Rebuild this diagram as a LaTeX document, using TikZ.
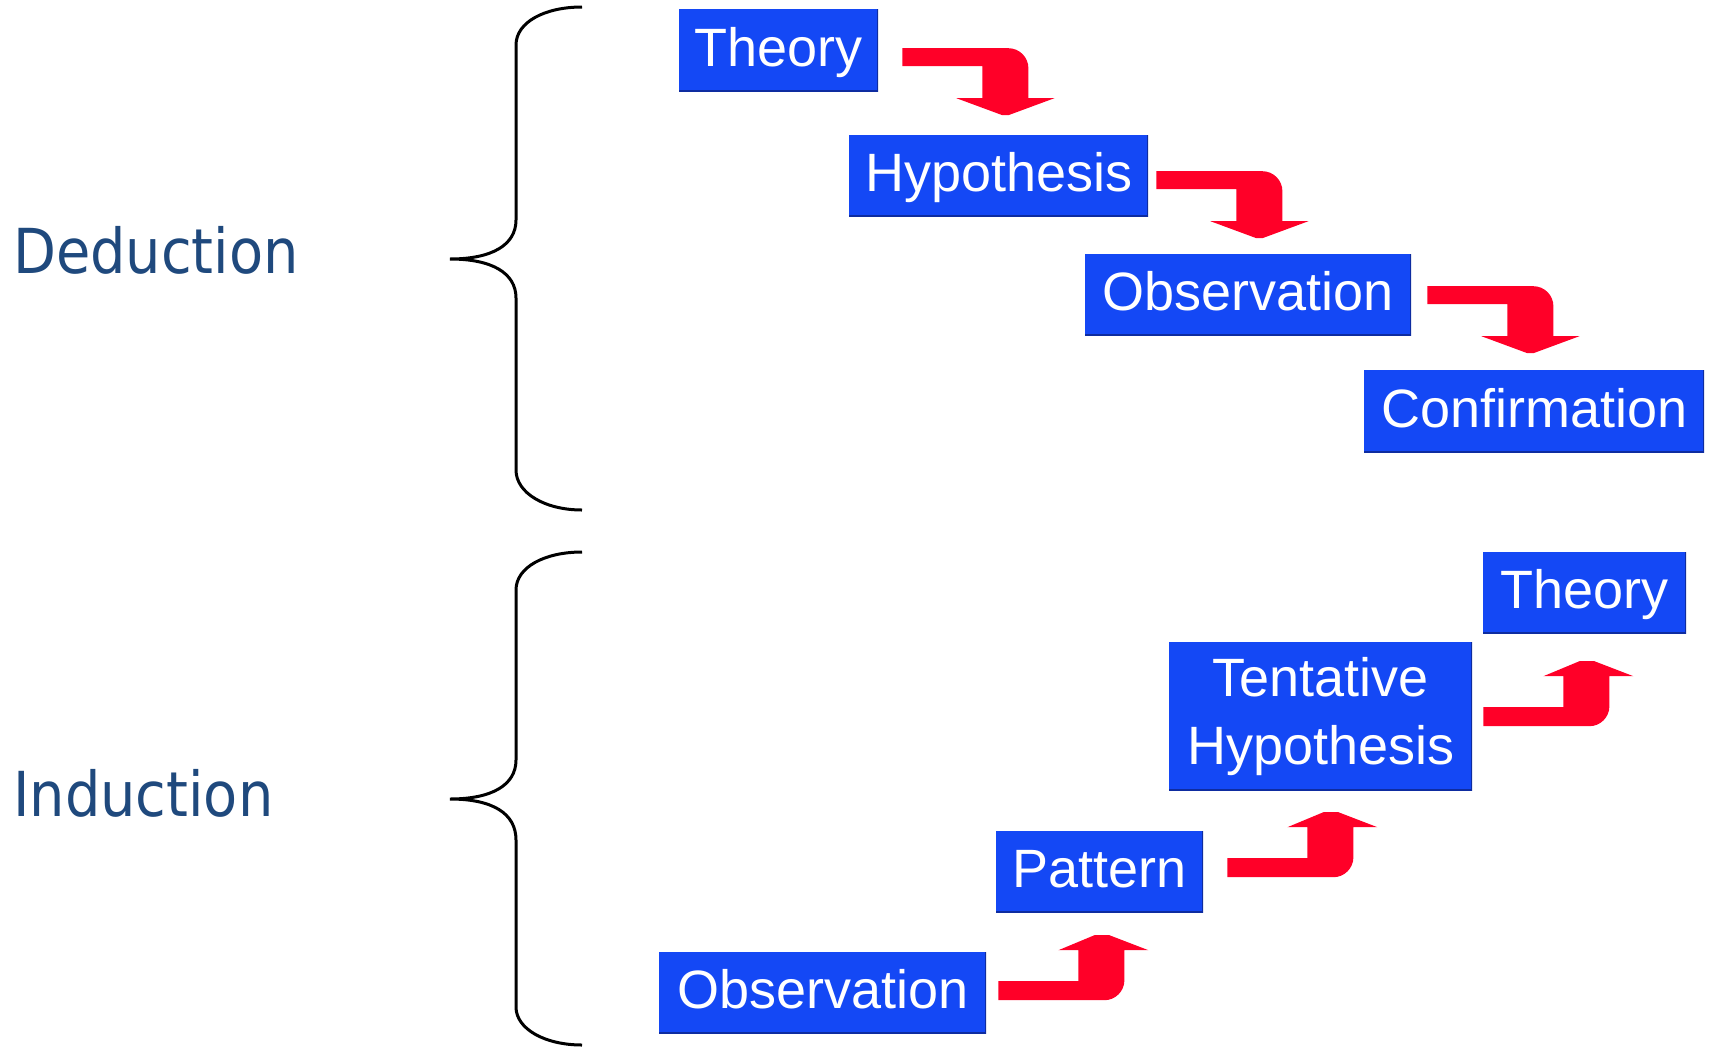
\documentclass[tikz,border=0pt]{standalone}
\usepackage{fontspec}
\setmainfont{Liberation Sans}
\newfontfamily\labfont[FakeStretch=0.9]{DejaVu Sans}
\usetikzlibrary{calc}
\definecolor{boxblue}{RGB}{20,72,245}
\definecolor{boxedge}{RGB}{14,44,160}
\definecolor{arrowred}{RGB}{255,0,40}
\definecolor{labblue}{RGB}{31,73,125}
\begin{document}
\begin{tikzpicture}[x=1pt,y=-1pt,
  stagebase/.style={fill=boxblue,text=white,inner sep=0pt,anchor=north west,
     font=\fontsize{54}{68}\selectfont,
     path picture={\draw[boxedge,line width=3pt]
        (path picture bounding box.north east) -- (path picture bounding box.south east)
        -- (path picture bounding box.south west);}},
  stagebox/.style={stagebase,text height=39pt,text depth=7pt},
  sidelabel/.style={text=labblue,font=\labfont\fontsize{62}{70}\selectfont,anchor=base west,inner sep=0pt},
  brace/.style={line width=3pt,black},
  darrow/.pic={\fill[arrowred] (0,0) -- (106,0) .. controls (117,0) and (126,9) .. (126,20)
      -- (126,50) -- (152,50) -- (106,67) -- (100,67) -- (54,50) -- (80,50) -- (80,18) -- (0,18) -- cycle;},
  uarrow/.pic={\fill[arrowred] (0,0) -- (106,0) .. controls (117,0) and (126,-9) .. (126,-20)
      -- (126,-50) -- (150,-50) -- (111,-65) -- (96,-65) -- (60,-50) -- (80,-50) -- (80,-19) -- (0,-19) -- cycle;}
]
\useasboundingbox (0,0) rectangle (1711,1047);

% side labels
\node[sidelabel] (ded) at (13,273) {Deduction};
\node[sidelabel] (ind) at (13,816) {Induction};

% braces
\draw[brace] (582,7) .. controls (545,7) and (516,22) .. (516,45) -- (516,220)
  .. controls (516,245) and (492,259) .. (450,259)
  .. controls (492,259) and (516,273) .. (516,298) -- (516,470)
  .. controls (516,493) and (545,510) .. (582,510);
\draw[brace] (582,552) .. controls (545,552) and (516,567) .. (516,590) -- (516,760)
  .. controls (516,785) and (492,799) .. (450,799)
  .. controls (492,799) and (516,813) .. (516,840) -- (516,1007)
  .. controls (516,1029) and (545,1045) .. (582,1045);

% deduction boxes
\node[stagebox,minimum width=199pt,minimum height=82pt] (t1) at (679,9) {Theory};
\node[stagebox,minimum width=299pt,minimum height=81pt] (h1) at (849,135) {Hypothesis};
\node[stagebox,minimum width=326pt,minimum height=81pt] (o1) at (1085,254) {Observation};
\node[stagebox,minimum width=340pt,minimum height=82pt] (c1) at (1364,370) {Confirmation};

% induction boxes
\node[stagebox,minimum width=327pt,minimum height=81pt] (o2) at (659,952) {Observation};
\node[stagebox,minimum width=207pt,minimum height=81pt] (p) at (996,831) {Pattern};
\node[stagebase,align=center,minimum width=303pt,minimum height=148pt] (th) at (1169,642) {Tentative\\Hypothesis};
\node[stagebox,minimum width=203pt,minimum height=81pt] (t2) at (1483,552) {Theory};

% block arrows
\pic at ($(t1.east)+(24,-2)$) {darrow};
\pic at ($(h1.east)+(8,-4.5)$) {darrow};
\pic at ($(o1.east)+(16,-8.5)$) {darrow};
\pic at ($(o2.east)+(12,7.5)$) {uarrow};
\pic at ($(p.east)+(24,5.5)$) {uarrow};
\pic at ($(th.east)+(11,10)$) {uarrow};
\end{tikzpicture}
\end{document}
